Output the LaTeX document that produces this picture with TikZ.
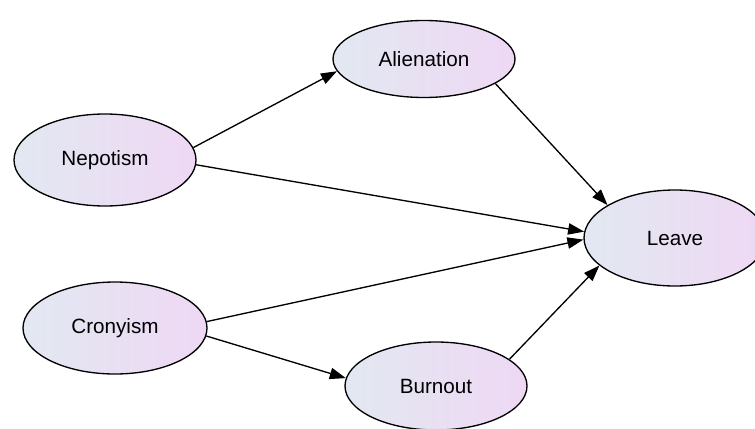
\documentclass[tikz,border=0pt]{standalone}
\usepackage{fontspec}
\setmainfont{Liberation Sans}
\definecolor{nodeblue}{RGB}{226, 232, 241}
\definecolor{nodepink}{RGB}{239, 216, 244}
\usetikzlibrary{shapes.geometric, arrows.meta, positioning}

\tikzset{
  factor/.style={ellipse, draw=black, line width=1pt, left color=nodeblue, right color=nodepink,
    inner sep=0pt, minimum width=136.5pt, font=\fontsize{15.5}{18}\selectfont},
  path/.style={line width=1pt, -{Triangle[length=12pt, width=8.5pt]}}
}

\begin{document}
\begin{tikzpicture}[x=0.75pt, y=-0.75pt]
  \useasboundingbox (0,0) rectangle (755,428);
  \clip (0,0) rectangle (755,428);

  % constructs
  \node[factor, minimum height=57.75pt] (alien) at (424,59) {Alienation};
  \node[factor, minimum height=69pt] (nepot) at (105,160) {Nepotism};
  \node[factor, minimum height=72pt] (leave) at (675,238) {Leave};
  \node[factor, minimum height=69pt, minimum width=138pt] (crony) at (115,328) {Cronyism};
  \node[factor, minimum height=66pt] (burn) at (436,386) {Burnout};

  % paths
  \draw[path] (nepot.8) -- (alien.188);
  \draw[path] (nepot.-3) -- (leave.176);
  \draw[path] (alien.-19) -- (leave.154);
  \draw[path] (crony.4) -- (leave.181);
  \draw[path] (crony.-5) -- (burn.175);
  \draw[path] (burn.20) -- (leave.200);
\end{tikzpicture}
\end{document}
